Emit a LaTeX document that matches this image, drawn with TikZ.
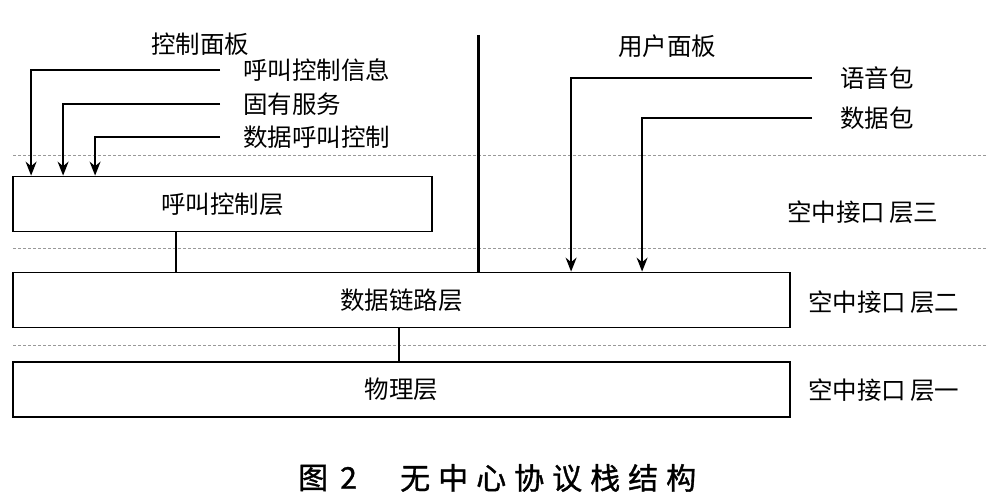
\documentclass[tikz,border=0pt]{standalone}
\usepackage{fontspec}
\newfontfamily\cjk{Noto Sans CJK SC}
\newfontfamily\cjkheavy[FakeBold=1.2]{Noto Sans CJK SC}
\usetikzlibrary{arrows.meta}
\tikzset{
  layerbox/.style={draw, line width=1.8pt, inner sep=0pt, rectangle},
  lbl/.style={inner sep=0pt, anchor=west},
  feed/.style={line width=1.6pt, -{Stealth[length=14pt,width=11pt]}},
  link/.style={line width=1.3pt},
  sepline/.style={gray!80, line width=0.9pt, dash pattern=on 3pt off 2pt},
  plane/.style={line width=3pt}
}
\begin{document}
\begin{tikzpicture}[x=1pt,y=-1pt,font=\cjk\fontsize{24.5}{27}\selectfont]
\useasboundingbox (0,0) rectangle (998,503);
% separator lines
\coordinate (s1a) at (13,155); \coordinate (s1b) at (987,155);
\coordinate (s2a) at (13,248); \coordinate (s2b) at (987,248);
\coordinate (s3a) at (13,345); \coordinate (s3b) at (987,345);
\draw[sepline] (s1a) -- (s1b);
\draw[sepline] (s2a) -- (s2b);
\draw[sepline] (s3a) -- (s3b);
% layer boxes
\node[layerbox, minimum width=419pt, minimum height=55pt] (cc) at (222.5,204) {呼叫控制层};
\node[layerbox, minimum width=777pt, minimum height=55pt] (dl) at (401.5,300) {数据链路层};
\node[layerbox, minimum width=777pt, minimum height=55pt] (ph) at (401.5,389.5) {物理层};
% plane titles
\node (cp) at (200,44) {控制面板};
\node (up) at (667,46) {用户面板};
% left inputs
\node[lbl] (l1) at (243,70) {呼叫控制信息};
\node[lbl] (l2) at (243,104) {固有服务};
\node[lbl] (l3) at (243,137) {数据呼叫控制};
\draw[feed] ([xshift=-23pt]l1.west) -| ([xshift=19pt]cc.north west);
\draw[feed] ([xshift=-23pt]l2.west) -| ([xshift=51pt]cc.north west);
\draw[feed] ([xshift=-23pt]l3.west) -| ([xshift=83pt]cc.north west);
% right inputs
\node[lbl] (r1) at (840,78) {语音包};
\node[lbl] (r2) at (840,118) {数据包};
\draw[feed] ([xshift=-28pt]r1.west) -| ([xshift=559pt]dl.north west);
\draw[feed] ([xshift=-28pt]r2.west) -| ([xshift=630pt]dl.north west);
% plane divider
\coordinate (vtop) at (478,35);
\draw[plane] (vtop) -- (vtop |- dl.north);
% inter-layer links
\coordinate (c1) at ([xshift=164pt]cc.south west);
\draw[link] (c1) -- (c1 |- dl.north);
\coordinate (c2) at ([xshift=387pt]dl.south west);
\draw[link] (c2) -- (c2 |- ph.north);
% air interface labels
\node[lbl] (a3) at (787,212) {空中接口\hspace{4pt}层三};
\node[lbl] (a2) at (808,302) {空中接口\hspace{4pt}层二};
\node[lbl] (a1) at (808,390) {空中接口\hspace{4pt}层一};
% caption
\node[lbl, font=\cjkheavy\fontsize{30}{32}\selectfont] (cap1) at (298,478) {图\hspace{12pt}2};
\node[lbl, font=\cjkheavy\fontsize{30}{32}\selectfont] (cap2) at (400,478) {无\hspace{8pt}中\hspace{8pt}心\hspace{8pt}协\hspace{8pt}议\hspace{8pt}栈\hspace{8pt}结\hspace{8pt}构};
\end{tikzpicture}
\end{document}
